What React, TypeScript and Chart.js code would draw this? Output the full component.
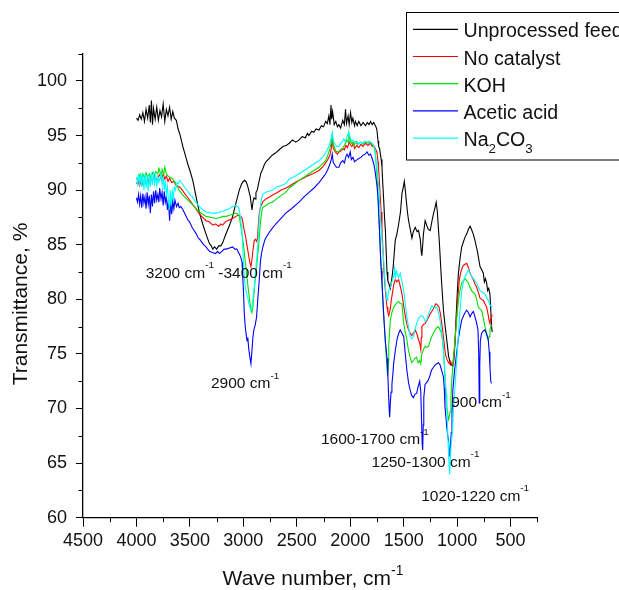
import React, { useEffect, useRef } from 'react';
import { Chart, registerables } from 'chart.js';

Chart.register(...registerables);

const FONT = '"Liberation Sans", Arial, Helvetica, sans-serif';

const X_MAJOR = [4500, 4000, 3500, 3000, 2500, 2000, 1500, 1000, 500];
const X_MINOR = [4250, 3750, 3250, 2750, 2250, 1750, 1250, 750, 250];
const Y_MAJOR = [60, 65, 70, 75, 80, 85, 90, 95, 100];
const Y_MINOR = [62.5, 67.5, 72.5, 77.5, 82.5, 87.5, 92.5, 97.5, 102.5];

const SERIES_NAMES = ['Unprocessed feed', 'No catalyst', 'KOH', 'Acetic acid', 'Na2CO3'];
const SERIES_COLORS = ['#000000', '#ff0000', '#00e000', '#0000ff', '#00ffff'];

const FEED: [number, number][] = [
  [4000,96.6],[3985,96.4],[3970,96.9],[3955,96.5],[3940,97.1],[3925,96.3],[3910,97.4],[3895,96.6],[3880,97.8],[3870,96.2],[3860,98.2],[3850,96.0],[3840,97.5],[3825,96.5],[3810,97.6],[3795,96.4],[3780,97.3],[3765,96.7],[3750,97.9],[3735,96.3],[3720,97.4],[3705,96.8],[3690,97.6],[3675,96.5],[3660,97.2],[3645,96.6],[3627,96.4],[3610,95.6],[3590,95.0],[3566,94.0],[3540,93.1],[3520,92.4],[3500,91.8],[3473,90.9],[3440,89.3],[3410,87.9],[3380,86.9],[3350,86.0],[3317,85.1],[3300,84.9],[3286,84.6],[3270,84.8],[3250,84.6],[3230,84.9],[3210,84.9],[3193,85.2],[3170,85.8],[3150,86.3],[3125,86.9],[3100,87.6],[3070,88.8],[3038,90.0],[3015,90.6],[2991,90.9],[2975,90.8],[2960,90.4],[2945,89.8],[2935,89.4],[2925,88.6],[2919,88.2],[2910,88.9],[2900,89.3],[2890,89.2],[2882,89.8],[2870,90.0],[2851,90.9],[2835,91.6],[2820,91.9],[2805,92.3],[2789,92.6],[2760,92.9],[2730,93.2],[2700,93.4],[2665,93.7],[2630,94.0],[2600,94.1],[2570,94.3],[2541,94.6],[2510,94.4],[2478,94.6],[2450,94.9],[2420,94.8],[2400,95.2],[2386,95.0],[2360,95.4],[2340,95.3],[2320,95.6],[2292,95.5],[2270,95.9],[2250,95.8],[2230,96.3],[2215,96.1],[2200,96.8],[2190,96.0],[2180,97.8],[2174,96.5],[2165,97.2],[2150,96.0],[2135,96.3],[2120,95.8],[2106,96.0],[2090,95.7],[2070,96.4],[2055,96.0],[2044,97.4],[2035,96.1],[2020,96.8],[2010,96.0],[1997,97.1],[1985,96.2],[1975,96.6],[1960,95.9],[1951,96.3],[1935,95.9],[1920,96.3],[1900,95.9],[1880,96.2],[1857,95.9],[1840,96.2],[1825,96.0],[1810,96.3],[1795,96.0],[1780,96.2],[1765,95.9],[1755,95.7],[1749,95.4],[1740,94.5],[1734,94.0],[1725,93.8],[1718,93.3],[1710,92.8],[1703,92.1],[1695,90.5],[1687,89.1],[1679,87.5],[1671,86.3],[1663,84.2],[1656,82.5],[1648,81.7],[1640,81.5],[1632,81.2],[1625,81.0],[1612,81.8],[1600,82.8],[1590,84.0],[1579,85.4],[1563,86.0],[1547,86.9],[1530,88.0],[1516,89.7],[1505,90.2],[1494,90.8],[1485,90.0],[1475,89.0],[1465,88.0],[1454,87.2],[1440,86.5],[1423,85.6],[1410,86.2],[1392,86.6],[1375,86.2],[1361,86.3],[1345,85.5],[1335,84.3],[1330,84.0],[1322,85.0],[1315,86.0],[1299,87.2],[1285,86.8],[1270,86.4],[1252,86.3],[1235,87.2],[1220,87.9],[1205,88.5],[1196,88.9],[1185,88.0],[1175,86.5],[1165,85.0],[1159,83.9],[1145,81.5],[1128,79.0],[1112,77.5],[1097,76.3],[1080,74.8],[1060,74.0],[1040,73.9],[1030,74.5],[1020,76.0],[1009,78.5],[1000,80.3],[988,82.4],[972,83.8],[957,84.8],[940,85.3],[926,85.7],[910,86.0],[895,86.4],[879,86.7],[865,86.4],[850,86.0],[833,85.4],[820,84.8],[810,84.4],[800,83.8],[786,83.0],[770,82.7],[755,82.4],[745,81.6],[735,81.9],[724,81.5],[715,80.8],[705,81.0],[693,80.5],[685,79.0],[678,77.5],[672,77.0]
];

const NO_CATALYST: [number, number][] = [
  [4000,90.6],[3985,90.8],[3970,90.4],[3955,90.9],[3940,90.5],[3925,91.0],[3910,90.6],[3895,91.1],[3880,90.7],[3865,91.2],[3850,90.8],[3835,91.3],[3820,90.9],[3800,91.2],[3783,91.4],[3765,90.9],[3750,91.5],[3735,91.0],[3720,91.3],[3705,90.8],[3690,91.1],[3670,90.7],[3650,90.8],[3625,90.4],[3596,90.3],[3570,90.0],[3550,89.7],[3525,89.4],[3503,89.1],[3475,88.7],[3450,88.4],[3430,88.1],[3410,87.8],[3380,87.5],[3350,87.2],[3320,87.1],[3286,86.8],[3260,86.9],[3230,86.7],[3210,86.9],[3193,86.8],[3170,87.1],[3150,87.2],[3125,87.3],[3100,87.4],[3070,87.6],[3050,87.7],[3038,87.7],[3025,87.6],[3015,87.5],[3007,87.2],[2995,86.5],[2980,85.8],[2970,85.2],[2960,84.6],[2950,84.0],[2940,83.4],[2929,83.0],[2920,83.6],[2910,84.5],[2898,85.4],[2885,85.5],[2875,85.3],[2867,85.6],[2860,86.8],[2851,87.9],[2835,88.6],[2820,88.9],[2790,89.2],[2750,89.4],[2720,89.6],[2696,89.7],[2650,90.0],[2600,90.2],[2550,90.5],[2500,90.8],[2479,90.9],[2440,91.1],[2400,91.3],[2350,91.5],[2292,91.8],[2260,92.1],[2230,92.5],[2210,92.8],[2190,93.2],[2178,93.8],[2168,94.6],[2158,93.8],[2140,93.5],[2120,93.3],[2106,93.5],[2085,93.6],[2070,93.8],[2055,93.7],[2040,94.1],[2025,93.9],[2010,94.4],[2000,94.2],[1985,94.0],[1970,94.3],[1960,93.8],[1940,94.1],[1920,93.9],[1900,94.2],[1880,94.0],[1857,94.3],[1835,94.1],[1810,94.3],[1795,94.0],[1780,94.1],[1765,93.8],[1755,93.6],[1749,93.4],[1740,92.6],[1735,92.0],[1727,90.8],[1720,89.5],[1711,88.0],[1703,86.5],[1695,84.8],[1687,83.0],[1679,81.8],[1671,80.8],[1663,80.0],[1656,79.3],[1648,78.8],[1640,78.5],[1632,78.8],[1625,79.2],[1615,80.0],[1605,80.6],[1594,81.3],[1579,81.8],[1563,81.6],[1547,81.8],[1532,81.2],[1516,80.5],[1500,79.4],[1484,78.4],[1470,77.7],[1454,77.2],[1440,76.9],[1423,76.7],[1410,76.9],[1392,77.2],[1375,76.8],[1361,76.3],[1350,76.0],[1340,75.4],[1335,76.5],[1330,77.5],[1315,77.7],[1299,77.8],[1280,78.1],[1265,78.4],[1250,78.7],[1230,79.0],[1215,79.3],[1200,79.6],[1185,79.5],[1170,79.3],[1155,78.6],[1140,77.5],[1125,76.3],[1110,75.0],[1095,74.5],[1080,74.2],[1070,74.1],[1060,74.3],[1050,74.0],[1040,74.1],[1025,75.5],[1009,77.8],[995,80.0],[979,81.8],[963,82.6],[948,83.0],[930,83.2],[910,83.3],[895,82.9],[879,82.4],[864,82.1],[848,81.8],[833,81.4],[817,81.1],[800,80.6],[786,80.1],[770,80.0],[755,79.9],[740,79.6],[724,79.3],[710,78.6],[700,78.0],[693,77.8],[685,78.3],[678,78.4],[672,78.6]
];

const KOH: [number, number][] = [
  [4000,91.2],[3985,90.9],[3970,91.4],[3955,91.0],[3940,91.5],[3925,91.1],[3910,91.6],[3895,91.2],[3880,91.5],[3865,91.1],[3850,91.6],[3835,91.3],[3820,91.7],[3800,91.5],[3790,92.0],[3783,91.8],[3770,91.3],[3760,91.9],[3745,91.4],[3735,92.1],[3720,91.5],[3705,91.3],[3690,91.2],[3670,91.1],[3650,90.9],[3625,90.5],[3600,90.0],[3570,89.6],[3540,89.3],[3510,89.0],[3478,88.7],[3445,88.3],[3410,88.0],[3380,87.8],[3350,87.6],[3300,87.5],[3255,87.4],[3220,87.5],[3193,87.6],[3160,87.6],[3130,87.7],[3100,87.8],[3069,87.9],[3050,87.8],[3038,87.6],[3028,87.0],[3020,86.5],[3010,85.8],[3000,85.1],[2990,84.2],[2980,83.3],[2970,82.4],[2960,81.5],[2950,80.6],[2940,79.8],[2929,79.1],[2920,78.8],[2912,79.2],[2905,80.0],[2898,80.8],[2890,81.7],[2880,82.5],[2867,83.9],[2858,84.8],[2851,85.7],[2840,87.0],[2830,87.9],[2820,88.4],[2790,88.6],[2760,88.8],[2727,88.9],[2690,89.2],[2650,89.5],[2603,89.8],[2572,90.2],[2530,90.5],[2479,90.9],[2430,91.2],[2386,91.5],[2340,91.8],[2292,92.1],[2260,92.4],[2230,92.7],[2210,93.2],[2190,93.8],[2178,94.4],[2168,95.2],[2160,94.2],[2150,94.0],[2135,93.6],[2120,93.5],[2100,93.6],[2085,93.8],[2070,93.8],[2050,94.2],[2030,94.6],[2020,94.4],[2013,95.2],[2000,94.6],[1990,94.3],[1980,94.4],[1965,94.1],[1950,94.4],[1935,94.2],[1920,94.3],[1900,94.4],[1880,94.2],[1857,94.4],[1835,94.3],[1810,94.4],[1795,94.2],[1780,94.0],[1770,93.6],[1760,92.7],[1750,91.4],[1741,89.7],[1733,88.0],[1725,86.0],[1717,84.2],[1710,82.9],[1703,81.8],[1695,80.0],[1687,78.5],[1679,77.3],[1671,76.0],[1663,74.8],[1656,73.6],[1650,73.0],[1644,74.2],[1640,75.8],[1632,77.0],[1625,78.1],[1610,78.8],[1594,79.3],[1578,79.5],[1563,79.7],[1547,79.8],[1532,79.6],[1516,79.6],[1508,78.7],[1500,77.8],[1485,77.0],[1470,76.3],[1455,75.3],[1440,74.7],[1425,74.2],[1409,74.4],[1395,74.6],[1380,74.7],[1365,74.2],[1350,74.4],[1340,74.1],[1330,75.0],[1315,75.4],[1299,75.7],[1285,75.6],[1268,75.7],[1252,76.2],[1237,76.6],[1222,76.9],[1206,77.2],[1190,77.4],[1175,77.5],[1160,77.2],[1144,76.9],[1136,76.2],[1128,75.4],[1120,74.0],[1112,72.6],[1104,71.3],[1097,70.2],[1088,69.5],[1080,69.0],[1072,69.3],[1065,69.7],[1058,71.0],[1050,72.6],[1035,74.5],[1019,76.3],[1004,78.2],[988,79.9],[972,80.9],[957,81.5],[941,81.7],[926,81.9],[910,81.7],[895,81.5],[880,81.1],[864,80.8],[848,80.6],[833,80.5],[817,80.0],[802,79.3],[786,79.1],[771,79.0],[755,78.3],[740,77.5],[724,76.9],[709,76.3],[700,76.6],[693,77.2],[685,77.5],[672,77.7]
];

const ACETIC_ACID: [number, number][] = [
  [4000,89.3],[3990,88.9],[3980,89.6],[3970,88.7],[3960,89.5],[3950,88.4],[3940,89.7],[3930,88.8],[3920,89.4],[3910,88.3],[3900,89.8],[3890,88.7],[3880,89.5],[3870,87.9],[3860,89.6],[3850,88.5],[3840,89.9],[3830,88.8],[3820,90.0],[3810,89.1],[3800,89.6],[3790,88.9],[3783,90.2],[3770,89.2],[3760,89.8],[3750,88.6],[3740,89.9],[3730,88.9],[3720,89.4],[3710,88.2],[3700,89.1],[3690,87.2],[3680,88.9],[3670,87.8],[3660,89.0],[3650,88.3],[3640,89.1],[3625,88.5],[3610,88.8],[3600,88.4],[3585,88.5],[3565,88.2],[3545,87.8],[3530,87.5],[3515,87.2],[3503,87.1],[3480,86.6],[3460,86.3],[3441,86.0],[3420,85.6],[3400,85.4],[3380,85.1],[3350,84.8],[3317,84.4],[3290,84.3],[3260,84.2],[3240,84.4],[3224,84.2],[3200,84.4],[3180,84.6],[3160,84.6],[3130,84.7],[3100,84.8],[3080,84.6],[3060,84.6],[3045,84.3],[3030,84.0],[3020,83.7],[3012,83.4],[3005,82.0],[2998,80.5],[2991,78.7],[2983,77.6],[2975,76.9],[2965,76.2],[2958,76.5],[2950,75.5],[2940,74.8],[2929,74.1],[2920,75.2],[2910,76.6],[2900,77.3],[2890,77.6],[2876,78.4],[2865,80.0],[2851,81.8],[2840,83.5],[2830,84.2],[2820,84.7],[2800,85.4],[2792,85.6],[2760,86.1],[2730,86.5],[2697,86.9],[2650,87.4],[2603,87.9],[2550,88.3],[2479,88.9],[2430,89.4],[2386,89.8],[2339,90.2],[2292,90.7],[2260,91.1],[2230,91.5],[2210,91.9],[2190,92.4],[2178,92.8],[2168,93.3],[2160,92.6],[2150,92.4],[2130,92.1],[2106,92.1],[2090,92.5],[2070,92.7],[2055,92.5],[2040,93.1],[2030,93.3],[2015,93.0],[2000,93.5],[1990,92.8],[1975,93.0],[1960,92.6],[1950,92.7],[1935,92.8],[1920,92.9],[1900,93.0],[1880,93.2],[1860,93.3],[1843,93.5],[1825,93.2],[1810,93.3],[1795,92.9],[1780,92.4],[1770,91.9],[1760,91.2],[1750,90.4],[1741,89.4],[1733,87.8],[1725,86.0],[1717,84.0],[1710,82.6],[1703,81.5],[1695,80.0],[1687,78.6],[1679,77.3],[1671,76.1],[1663,75.3],[1656,74.6],[1648,73.0],[1640,71.0],[1635,69.8],[1631,69.2],[1625,70.5],[1618,71.5],[1610,72.2],[1600,73.3],[1594,74.1],[1580,75.2],[1563,76.3],[1547,76.9],[1532,77.2],[1516,76.9],[1500,76.6],[1485,75.0],[1470,73.5],[1455,72.4],[1440,71.7],[1425,71.2],[1409,71.0],[1395,71.3],[1378,71.4],[1365,72.0],[1350,72.5],[1340,71.5],[1333,69.0],[1327,66.8],[1322,66.2],[1317,68.5],[1312,71.0],[1300,72.2],[1285,72.4],[1270,72.6],[1255,73.0],[1240,73.5],[1220,73.8],[1205,74.0],[1191,74.1],[1175,74.2],[1160,74.0],[1145,73.5],[1128,72.9],[1120,71.8],[1114,70.2],[1105,69.2],[1097,68.3],[1089,67.6],[1081,67.1],[1075,66.2],[1070,65.6],[1063,66.5],[1055,67.8],[1048,69.5],[1040,71.7],[1025,73.4],[1009,74.7],[990,76.3],[973,77.3],[957,78.1],[940,78.5],[925,78.8],[910,79.0],[895,78.8],[879,78.4],[864,78.7],[848,78.9],[833,78.4],[817,77.8],[805,77.2],[798,75.0],[793,70.5],[788,74.0],[783,76.2],[771,76.9],[755,77.1],[740,77.2],[724,76.8],[709,76.3],[700,75.2],[693,73.8],[686,72.6],[680,72.3]
];

const NA2CO3: [number, number][] = [
  [4000,91.2],[3990,90.6],[3980,91.5],[3970,90.4],[3960,91.6],[3950,90.3],[3940,91.4],[3930,90.0],[3920,91.5],[3910,90.2],[3900,91.3],[3890,89.9],[3880,91.4],[3870,90.3],[3860,91.6],[3850,90.5],[3840,91.7],[3830,90.6],[3820,91.3],[3810,90.4],[3800,91.2],[3790,90.7],[3783,91.0],[3770,91.5],[3760,90.5],[3750,91.3],[3740,90.0],[3730,90.9],[3720,89.6],[3710,90.3],[3700,88.9],[3690,88.2],[3685,90.0],[3675,88.6],[3665,89.9],[3655,89.2],[3645,90.3],[3635,90.0],[3620,90.7],[3610,90.6],[3596,90.9],[3580,90.7],[3565,90.5],[3545,90.2],[3520,89.9],[3500,89.6],[3478,89.4],[3445,88.9],[3410,88.5],[3380,88.2],[3350,88.0],[3300,87.9],[3255,87.9],[3210,88.0],[3160,88.2],[3130,88.3],[3100,88.5],[3069,88.6],[3050,88.5],[3038,88.2],[3028,87.5],[3020,86.8],[3013,86.0],[3007,85.1],[2999,83.5],[2991,82.0],[2980,81.0],[2970,80.5],[2960,80.2],[2950,79.7],[2940,79.3],[2930,79.0],[2920,79.2],[2910,80.0],[2898,81.1],[2885,82.6],[2875,83.7],[2867,84.6],[2858,86.0],[2851,87.4],[2840,88.6],[2830,89.2],[2820,89.6],[2790,89.8],[2760,89.9],[2727,90.0],[2690,90.3],[2650,90.4],[2603,90.6],[2572,91.0],[2530,91.2],[2479,91.5],[2430,91.8],[2386,92.1],[2340,92.4],[2292,92.7],[2260,93.0],[2230,93.4],[2210,93.8],[2190,94.3],[2178,94.8],[2168,95.3],[2160,94.6],[2150,94.3],[2140,94.2],[2125,94.0],[2106,94.0],[2090,94.3],[2075,94.4],[2060,94.7],[2045,94.4],[2030,94.9],[2013,95.3],[2000,94.8],[1985,94.5],[1970,94.6],[1955,94.3],[1940,94.5],[1920,94.2],[1905,94.4],[1885,94.3],[1865,94.5],[1843,94.4],[1820,94.5],[1800,94.3],[1785,94.2],[1775,93.9],[1766,93.6],[1758,92.6],[1750,92.0],[1741,91.2],[1733,90.2],[1725,88.8],[1717,87.3],[1710,86.2],[1703,85.4],[1695,84.5],[1687,83.6],[1679,82.3],[1671,81.1],[1663,80.4],[1656,79.9],[1648,80.3],[1640,80.8],[1632,81.0],[1625,81.1],[1610,81.6],[1594,82.1],[1585,82.8],[1578,81.9],[1570,82.6],[1563,82.4],[1548,82.0],[1532,82.4],[1516,81.6],[1500,80.8],[1485,79.6],[1470,78.4],[1455,77.5],[1440,76.6],[1425,76.4],[1409,76.6],[1395,77.2],[1378,77.8],[1365,78.2],[1350,78.4],[1333,78.5],[1316,78.4],[1300,78.0],[1285,78.1],[1270,78.6],[1254,79.0],[1238,79.4],[1222,79.3],[1206,79.2],[1190,79.3],[1175,78.8],[1160,78.1],[1145,77.0],[1128,75.4],[1116,73.5],[1104,71.7],[1094,69.5],[1085,67.0],[1078,65.2],[1070,64.0],[1062,65.5],[1055,66.8],[1045,67.7],[1035,69.8],[1022,71.7],[1006,74.0],[991,76.3],[974,78.8],[957,80.8],[941,81.6],[926,82.1],[910,82.4],[895,82.7],[880,82.4],[864,82.1],[848,81.9],[833,81.7],[817,81.5],[800,81.1],[786,80.8],[770,80.7],[755,80.6],[740,80.5],[724,80.2],[709,79.9],[693,79.5],[678,79.3],[672,79.4]
];

const SERIES_DATA = [FEED, NO_CATALYST, KOH, ACETIC_ACID, NA2CO3];

type Part = { t: string; sup?: boolean; sub?: boolean };

const CM1: Part[] = [{ t: ' cm' }, { t: '-1', sup: true }];

// annotation anchors in data coordinates (wave number, transmittance) = left/baseline of text
const ANNOTATIONS: { parts: Part[]; wn: number; t: number }[] = [
  { parts: [{ t: '3200' }, ...CM1, { t: ' -3400' }, ...CM1], wn: 3913, t: 82.0 },
  { parts: [{ t: '2900' }, ...CM1], wn: 3303, t: 71.85 },
  { parts: [{ t: '1600-1700' }, ...CM1], wn: 2274, t: 66.75 },
  { parts: [{ t: '1250-1300' }, ...CM1], wn: 1801, t: 64.67 },
  { parts: [{ t: '1020-1220' }, ...CM1], wn: 1336, t: 61.57 },
  { parts: [{ t: '900' }, ...CM1], wn: 1056, t: 70.1 },
];

const LEGEND_LABELS: Part[][] = [
  [{ t: 'Unprocessed feed' }],
  [{ t: 'No catalyst' }],
  [{ t: 'KOH' }],
  [{ t: 'Acetic acid' }],
  [{ t: 'Na' }, { t: '2', sub: true }, { t: 'CO' }, { t: '3', sub: true }],
];

function drawRich(
  ctx: CanvasRenderingContext2D,
  parts: Part[],
  x: number,
  y: number,
  size: number,
  align: 'left' | 'center' = 'left',
  smallScale = 0.64,
  supRaise = 0.6,
  subDrop = 0.35
) {
  const fontFor = (s: number) => `${s}px ${FONT}`;
  const sizes = parts.map((p) => (p.sup || p.sub ? size * smallScale : size));
  const widths = parts.map((p, i) => {
    ctx.font = fontFor(sizes[i]);
    return ctx.measureText(p.t).width;
  });
  const total = widths.reduce((a, b) => a + b, 0);
  let cx = align === 'center' ? x - total / 2 : x;
  ctx.textAlign = 'left';
  ctx.textBaseline = 'alphabetic';
  parts.forEach((p, i) => {
    ctx.font = fontFor(sizes[i]);
    const dy = p.sup ? -size * supRaise : p.sub ? size * subDrop : 0;
    ctx.fillText(p.t, cx, y + dy);
    cx += widths[i];
  });
}

const overlayPlugin = {
  id: 'overlay',
  afterDraw(chart: any) {
    const ctx: CanvasRenderingContext2D = chart.ctx;
    const xs = chart.scales.x;
    const ys = chart.scales.y;
    const { left, bottom } = chart.chartArea;
    ctx.save();
    // minor ticks
    ctx.strokeStyle = '#000';
    ctx.lineWidth = 1;
    ctx.beginPath();
    X_MINOR.forEach((v) => {
      const px = Math.round(xs.getPixelForValue(v)) + 0.5;
      ctx.moveTo(px, bottom);
      ctx.lineTo(px, bottom + 4.5);
    });
    Y_MINOR.forEach((v) => {
      const py = Math.round(ys.getPixelForValue(v)) + 0.5;
      ctx.moveTo(left - 4.5, py);
      ctx.lineTo(left, py);
    });
    ctx.stroke();

    ctx.fillStyle = '#111';
    // annotations
    ANNOTATIONS.forEach((a) => {
      drawRich(ctx, a.parts, xs.getPixelForValue(a.wn), ys.getPixelForValue(a.t), 15.5);
    });

    // axis titles
    drawRich(ctx, [{ t: 'Wave number, cm' }, { t: '-1', sup: true }], 313, 585, 21, 'center', 0.66, 0.5);
    ctx.save();
    ctx.translate(27, 304);
    ctx.rotate(-Math.PI / 2);
    drawRich(ctx, [{ t: 'Transmittance, %' }], 0, 0, 21, 'center');
    ctx.restore();

    // legend
    const lx = 406.5;
    const ly = 12.5;
    ctx.fillStyle = '#fff';
    ctx.fillRect(lx, ly, 300, 147.5);
    ctx.strokeStyle = '#000';
    ctx.lineWidth = 1;
    ctx.strokeRect(lx, ly, 300, 147.5);
    SERIES_NAMES.forEach((_, i) => {
      const y = 29.3 + i * 27.2;
      ctx.strokeStyle = SERIES_COLORS[i];
      ctx.lineWidth = 1.2;
      ctx.beginPath();
      ctx.moveTo(413, y);
      ctx.lineTo(458, y);
      ctx.stroke();
      ctx.fillStyle = '#111';
      drawRich(ctx, LEGEND_LABELS[i], 463.5, y + 8, 19.6, 'left', 0.68, 0.6, 0.35);
    });
    ctx.restore();
  },
};

export default function App() {
  const ref = useRef<HTMLCanvasElement>(null);
  useEffect(() => {
    const canvas = ref.current;
    if (!canvas) return;
    const datasets = SERIES_DATA.map((series, i) => ({
      label: SERIES_NAMES[i],
      data: series.map(([x, y]) => ({ x, y })),
      borderColor: SERIES_COLORS[i],
      backgroundColor: SERIES_COLORS[i],
      borderWidth: 1.1,
      pointRadius: 0,
      tension: 0,
      fill: false,
      order: SERIES_DATA.length - i,
    }));
    const chart = new Chart(canvas, {
      type: 'line',
      data: { datasets },
      plugins: [overlayPlugin],
      options: {
        animation: false,
        responsive: false,
        devicePixelRatio: 1,
        layout: { padding: { top: 53.7, right: 81.7, left: 0, bottom: 0 } },
        plugins: { legend: { display: false }, tooltip: { enabled: false } },
        scales: {
          x: {
            type: 'linear',
            reverse: true,
            min: 250,
            max: 4500,
            afterBuildTicks: (s: any) => {
              s.ticks = X_MAJOR.map((v) => ({ value: v }));
            },
            afterFit: (s: any) => {
              s.height = 72.3;
            },
            grid: { display: true, drawOnChartArea: false, drawTicks: true, tickLength: 9, color: '#000', lineWidth: 1 },
            border: { display: true, color: '#000', width: 1.3 },
            ticks: {
              font: { family: FONT, size: 18 },
              color: '#111',
              padding: 4,
              maxRotation: 0,
              autoSkip: false,
              callback: (v: any) => String(v),
            },
          },
          y: {
            type: 'linear',
            min: 60,
            max: 102.5,
            afterBuildTicks: (s: any) => {
              s.ticks = Y_MAJOR.map((v) => ({ value: v }));
            },
            afterFit: (s: any) => {
              s.width = 83;
            },
            grid: { display: true, drawOnChartArea: false, drawTicks: true, tickLength: 7, color: '#000', lineWidth: 1 },
            border: { display: true, color: '#000', width: 1.3 },
            ticks: {
              font: { family: FONT, size: 18 },
              color: '#111',
              padding: 9,
              autoSkip: false,
              callback: (v: any) => String(v),
            },
          },
        },
      },
    } as any);
    return () => chart.destroy();
  }, []);
  return (
    <canvas
      ref={ref}
      width={619}
      height={590}
      style={{ position: 'fixed', left: 0, top: 0, width: 619, height: 590, display: 'block' }}
    />
  );
}
